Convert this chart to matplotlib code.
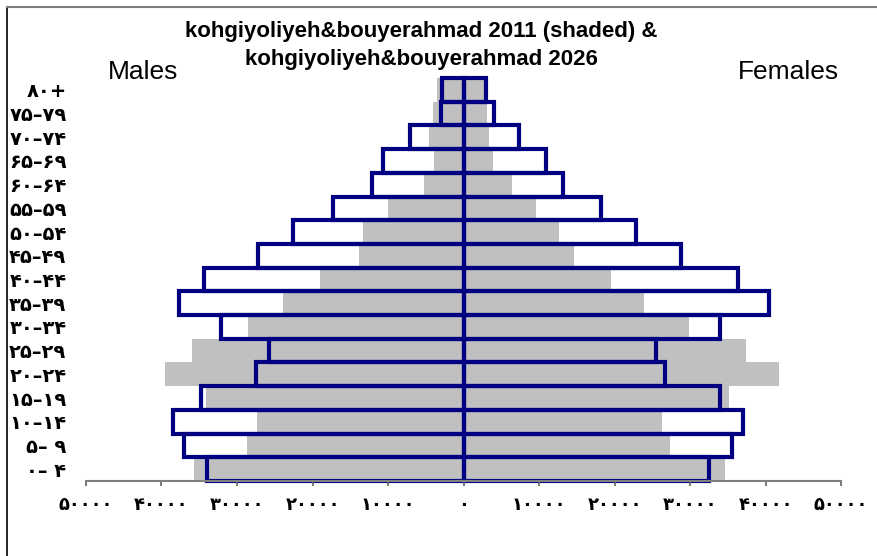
import matplotlib.pyplot as plt
import numpy as np
from matplotlib.lines import Line2D

# age groups, youngest first (Persian digits)
age_groups = ['۰– ۴', '۵– ۹', '۱۰–۱۴', '۱۵–۱۹', '۲۰–۲۴', '۲۵–۲۹', '۳۰–۳۴', '۳۵–۳۹',
              '۴۰–۴۴', '۴۵–۴۹', '۵۰–۵۴', '۵۵–۵۹', '۶۰–۶۴', '۶۵–۶۹', '۷۰–۷۴', '۷۵–۷۹', '۸۰+']

males_2011 = [35670, 28640, 27400, 34120, 39550, 35930, 28590, 23960, 19010,
              13850, 13280, 9960, 5230, 3910, 4530, 4000, 3470]
females_2011 = [34560, 27360, 26340, 35090, 41710, 37390, 29880, 23960, 19500,
                14640, 12700, 9610, 6470, 3950, 3420, 3150, 2720]
males_2026 = [33990, 37070, 38530, 34740, 27450, 25810, 32090, 37740, 34420,
              27230, 22590, 17330, 12120, 10670, 7050, 2940, 2850]
females_2026 = [32490, 35580, 37030, 33950, 26660, 25470, 33950, 40480, 36280,
                28780, 22820, 18180, 13220, 10890, 7390, 4040, 3020]

x_ticks = [-50000, -40000, -30000, -20000, -10000, 0, 10000, 20000, 30000, 40000, 50000]

PERSIAN = str.maketrans('0123456789', '۰۱۲۳۴۵۶۷۸۹')


def fa_num(v):
    return str(abs(int(v))).translate(PERSIAN)


fig = plt.figure(figsize=(8.78, 5.56), dpi=100)
ax = fig.add_axes([0.0979, 0.1349, 0.8601, 0.7248])

y = np.arange(len(age_groups))

# 2011 shaded
ax.barh(y, -np.array(males_2011), height=1.0, color='#c0c0c0', linewidth=0)
ax.barh(y, females_2011, height=1.0, color='#c0c0c0', linewidth=0)

# 2026 outlined
for vals, sign in ((males_2026, -1), (females_2026, 1)):
    bars = ax.barh(y, sign * np.array(vals), height=1.0, fill=False,
                   edgecolor='#000080', linewidth=3.0)
    for b in bars:
        b.set_clip_on(False)

ax.set_xlim(-50000, 50000)
ax.set_ylim(-0.5, len(age_groups) - 0.5)

ax.set_xticks(x_ticks)
ax.set_xticklabels([fa_num(v) for v in x_ticks], fontsize=13, fontweight='bold',
                   family='DejaVu Sans')
ax.set_yticks(y)
ax.set_yticklabels(age_groups, fontsize=14, fontweight='bold', family='DejaVu Sans')

ax.tick_params(axis='x', direction='out', length=3.6, width=1.2, color='#606060', pad=7)
ax.tick_params(axis='y', length=0, pad=14)

for side in ('left', 'right', 'top'):
    ax.spines[side].set_visible(False)
ax.spines['bottom'].set_color('#808080')
ax.spines['bottom'].set_linewidth(1.5)

fig.text(0.48, 0.943, 'kohgiyoliyeh&bouyerahmad 2011 (shaded) &',
         ha='center', va='center', fontsize=16, fontweight='bold', family='Liberation Sans')
fig.text(0.48, 0.893, 'kohgiyoliyeh&bouyerahmad 2026',
         ha='center', va='center', fontsize=16, fontweight='bold', family='Liberation Sans')
fig.text(0.163, 0.870, 'Males', ha='center', va='center', fontsize=19, family='Liberation Sans')
fig.text(0.8975, 0.870, 'Females', ha='center', va='center', fontsize=19, family='Liberation Sans')

# frame edges around the figure
fig.add_artist(Line2D([0.008, 0.008], [0.0, 0.987], color='black', linewidth=1.2))
fig.add_artist(Line2D([0.008, 1.0], [0.987, 0.987], color='#808080', linewidth=1.5))

fig.savefig('out.png', dpi=100)
